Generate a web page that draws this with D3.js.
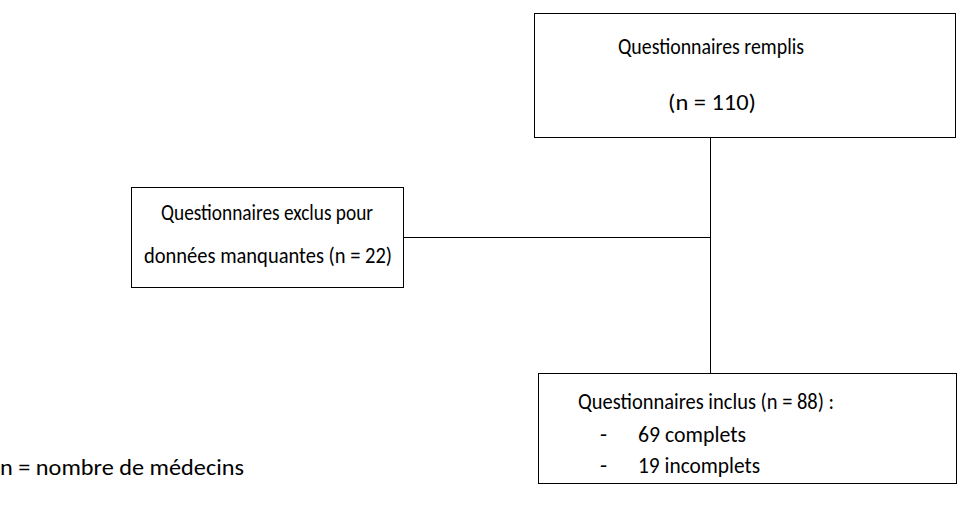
<!DOCTYPE html>
<html><head><meta charset="utf-8">
<script src="https://cdn.jsdelivr.net/npm/d3@7"></script>
<style>body{margin:0;background:#fff}svg{display:block}text{font-family:Carlito,Lato,"Open Sans",sans-serif;fill:#000}</style>
</head><body>
<script>
const totalCount = [110];
const excludedCount = [22];
const includedCount = [88];
const subgroupCounts = [69, 19];
const subgroupLabels = ["complets", "incomplets"];
const boxTitles = ["Questionnaires remplis", "Questionnaires exclus pour", "Questionnaires inclus"];
const footnote = "n = nombre de médecins";

const W=971,H=511;
const svg=d3.select("body").append("svg").attr("width",W).attr("height",H);
const fs=23;
const boxes=[
  {x:534,y:13,w:421,h:124},
  {x:131,y:187,w:272,h:100},
  {x:538,y:373,w:418,h:110}
];
const g=svg.append("g").attr("stroke","#000").attr("stroke-width",1).attr("fill","none");
const spineX=710.5;
g.append("line").attr("x1",spineX).attr("x2",spineX).attr("y1",137).attr("y2",373);
g.append("line").attr("x1",403).attr("x2",spineX).attr("y1",237.5).attr("y2",237.5);
g.selectAll("rect").data(boxes).join("rect")
  .attr("x",d=>d.x+0.5).attr("y",d=>d.y+0.5).attr("width",d=>d.w).attr("height",d=>d.h);

function t(x,y,s,size,len,anchor){
  const e=svg.append("text").attr("x",x).attr("y",y).attr("font-size",size).attr("text-anchor",anchor||"start").text(s);
  if(len) e.attr("textLength",len).attr("lengthAdjust","spacingAndGlyphs");
  return e;
}
t(711,54,boxTitles[0],fs,186,"middle");
t(712,110,"(n = " + totalCount[0] + ")",fs,88,"middle");
t(267,220,boxTitles[1],fs,212,"middle");
t(268,263,"données manquantes (n = " + excludedCount[0] + ")",fs,248,"middle");
t(578,409,boxTitles[2] + " (n = " + includedCount[0] + ") :",fs,256);
subgroupCounts.forEach((c,i)=>{
  t(600,442+i*31,"-",fs);
  t(638,442+i*31,c + " " + subgroupLabels[i],fs, i===0?108:122);
});
t(0,475,footnote,fs,244);
</script>
</body></html>
